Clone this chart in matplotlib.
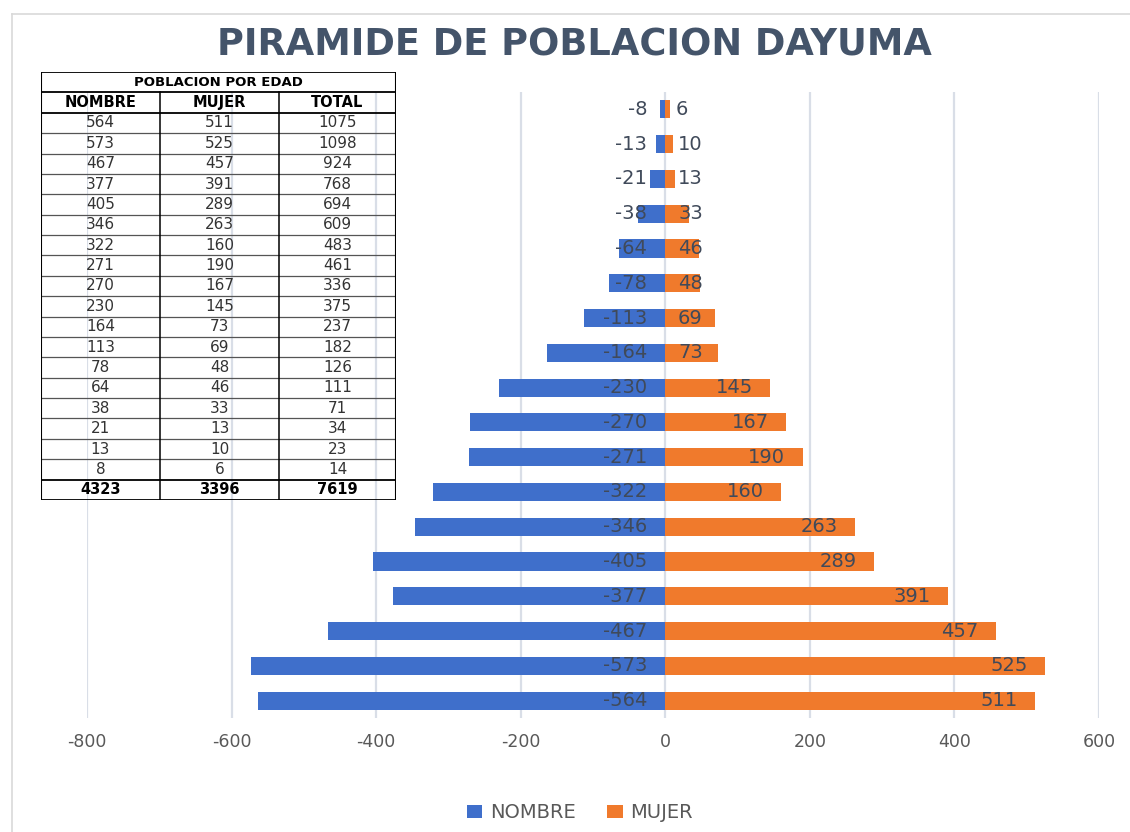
import matplotlib
matplotlib.use("Agg")
import matplotlib.pyplot as plt
from matplotlib.patches import Patch
from matplotlib.lines import Line2D
import numpy as np

# ---- data (table order, bottom bar first) ----
hombres = [564, 573, 467, 377, 405, 346, 322, 271, 270, 230, 164, 113, 78, 64, 38, 21, 13, 8]
mujeres = [511, 525, 457, 391, 289, 263, 160, 190, 167, 145, 73, 69, 48, 46, 33, 13, 10, 6]
totales = [1075, 1098, 924, 768, 694, 609, 483, 461, 336, 375, 237, 182, 126, 111, 71, 34, 23, 14]
suma_totales = [4323, 3396, 7619]
xticks = [-800, -600, -400, -200, 0, 200, 400, 600]
series_names = ["NOMBRE", "MUJER"]
table_title = "POBLACION POR EDAD"
table_cols = ["NOMBRE", "MUJER", "TOTAL"]
title = "PIRAMIDE DE POBLACION DAYUMA"

W, H = 1130, 832
fig = plt.figure(figsize=(W / 100, H / 100), dpi=100)
fig.patch.set_facecolor("white")

BLUE = "#3F6FCB"
ORANGE = "#F07A2C"
LABEL_C = "#404A5A"
TICK_C = "#595959"
GRID_C = "#D9DEE7"

def fx(px):
    return px / W

def fy(py):
    return 1 - py / H

# outer chart frame (cropped at right and bottom)
fig.add_artist(Line2D([fx(12), 1.0], [fy(14), fy(14)], color="#D9D9D9", lw=1.2))
fig.add_artist(Line2D([fx(12), fx(12)], [fy(14), 0.0], color="#D9D9D9", lw=1.2))

# main axes
ax = fig.add_axes([fx(87), fy(718), fx(1099) - fx(87), fy(92) - fy(718)])
n = len(hombres)
y = np.arange(n)
neg = -np.array(hombres)
pos = np.array(mujeres)
ax.barh(y, neg, height=0.52, color=BLUE, zorder=3)
ax.barh(y, pos, height=0.52, color=ORANGE, zorder=3)
ax.set_xlim(-800, 600)
ax.set_ylim(-0.5, n - 0.5)
ax.set_xticks(xticks)
ax.set_xticklabels([str(t) for t in xticks])
ax.set_yticks([])
ax.tick_params(axis="x", length=0, pad=11, labelsize=12.5, labelcolor=TICK_C)
ax.grid(axis="x", color=GRID_C, lw=1.6, zorder=0)
for s in ax.spines.values():
    s.set_visible(False)
ax.patch.set_alpha(0)

for yi, v in zip(y, neg):
    ax.text(-25, yi, str(v), ha="right", va="center", fontsize=14, color=LABEL_C, zorder=5)
for yi, v in zip(y, pos):
    lab = str(v)
    xr = max(v - 24, 12 + 20 * len(lab))
    ax.text(xr, yi, lab, ha="right", va="center", fontsize=14, color=LABEL_C, zorder=5)

# title
fig.text(fx(574), fy(45), title, ha="center", va="center", fontsize=26.5,
         fontweight="bold", color="#44546A")

# table (drawn in pixel coordinates)
tx0, tx1, ty0, ty1 = 41, 396, 72, 500
tax = fig.add_axes([fx(tx0), fy(ty1), fx(tx1) - fx(tx0), fy(ty0) - fy(ty1)])
tax.set_xlim(tx0, tx1)
tax.set_ylim(ty1, ty0)
tax.axis("off")
tax.patch.set_alpha(0)
nrows = n + 3
rh = (ty1 - ty0) / nrows
colx = [tx0, 160, 279, tx1]
# horizontal lines
for i in range(nrows + 1):
    yy = ty0 + i * rh
    if i in (0, 1, 2, nrows - 1, nrows):
        tax.plot([tx0, tx1], [yy, yy], color="black", lw=1.3, solid_capstyle="butt")
    else:
        tax.plot([tx0, tx1], [yy, yy], color="#555555", lw=0.9, solid_capstyle="butt")
# vertical lines
tax.plot([tx0, tx0], [ty0, ty1], color="black", lw=1.5)
tax.plot([tx1, tx1], [ty0, ty1], color="black", lw=1.5)
for cx in colx[1:3]:
    tax.plot([cx, cx], [ty0 + rh, ty1], color="black", lw=1.1)
centers = [(colx[i] + colx[i + 1]) / 2 for i in range(3)]
tax.text((tx0 + tx1) / 2, ty0 + rh / 2, table_title, ha="center", va="center",
         fontsize=9.5, fontweight="bold", color="black")
for c, name in zip(centers, table_cols):
    tax.text(c, ty0 + 1.5 * rh, name, ha="center", va="center", fontsize=10.5,
             fontweight="bold", color="black")
for i in range(n):
    yy = ty0 + (2.5 + i) * rh
    for c, val in zip(centers, [hombres[i], mujeres[i], totales[i]]):
        tax.text(c, yy, str(val), ha="center", va="center", fontsize=11, color="#333333")
for c, val in zip(centers, suma_totales):
    tax.text(c, ty0 + (nrows - 0.5) * rh, str(val), ha="center", va="center",
             fontsize=10.5, fontweight="bold", color="black")

# legend
handles = [Patch(facecolor=BLUE, edgecolor="none"), Patch(facecolor=ORANGE, edgecolor="none")]
leg = fig.legend(handles, series_names, loc="center", bbox_to_anchor=(fx(580), fy(813)),
                 ncol=2, frameon=False, fontsize=14, handlelength=0.8, handleheight=0.6,
                 handletextpad=0.4, columnspacing=1.6)
for t in leg.get_texts():
    t.set_color(TICK_C)

fig.savefig("out.png", dpi=100)
